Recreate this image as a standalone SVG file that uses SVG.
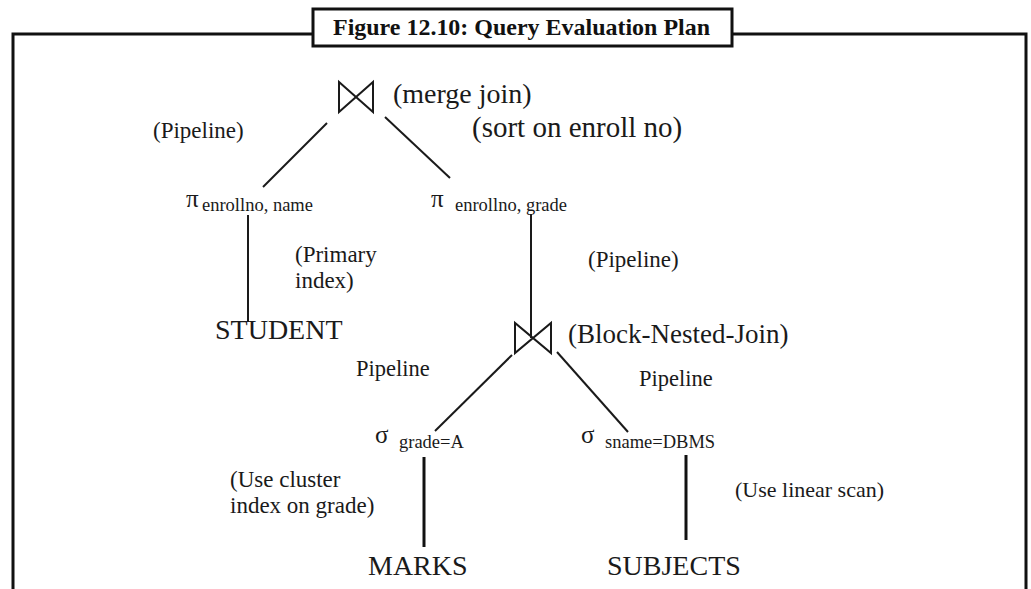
<svg xmlns="http://www.w3.org/2000/svg" width="1031" height="589" viewBox="0 0 1031 589">
<style>
  .t { font-family: "Liberation Serif", "Times New Roman", serif; fill: #1a1a1a; }
  .big { font-size: 28px; }
  .mid { font-size: 23px; }
  .sub { font-size: 18.5px; }
  .greek { font-size: 25px; }
  .ln { stroke: #1a1a1a; stroke-width: 2; fill: none; }
  .thick { stroke: #111; stroke-width: 3; fill: none; }
  .frame { stroke: #111; stroke-width: 3; fill: none; }
  .title { font-family: "Liberation Serif", "Times New Roman", serif; font-weight: bold; font-size: 23px; fill: #111; }
</style>
<rect width="1031" height="589" fill="#fff"/>
<g id="frame">
  <path class="frame" d="M13,589 L13,34 L313,34 M732,34 L1026,34 L1026,589"/>
  <rect class="frame" x="313" y="9" width="419" height="37" fill="#fff"/>
  <text class="title" x="333" y="35" textLength="377" lengthAdjust="spacingAndGlyphs">Figure 12.10: Query Evaluation Plan</text>
</g>
<g id="connectors">
  <line class="ln" x1="327" y1="123" x2="263" y2="187"/>
  <line class="ln" x1="385" y1="117" x2="450" y2="178"/>
  <line class="ln" x1="248" y1="215" x2="248" y2="322"/>
  <line class="ln" x1="531" y1="214" x2="531" y2="338"/>
  <line class="ln" x1="512" y1="355" x2="435" y2="431"/>
  <line class="ln" x1="557" y1="352" x2="628" y2="432"/>
  <line class="thick" x1="424" y1="457" x2="424" y2="547"/>
  <line class="thick" x1="686" y1="455" x2="686" y2="540"/>
</g>
<g id="merge-join">
  <path class="ln" d="M339,82 L339,112 L373,82 L373,112 Z"/>
  <text class="t big" x="393" y="103">(merge join)</text>
  <text class="t big" x="472" y="137" style="font-size:29px">(sort on enroll no)</text>
</g>
<g id="pipeline-left-label">
  <text class="t mid" x="153" y="138">(Pipeline)</text>
</g>
<g id="project-name">
  <text class="t greek" x="186" y="207">π</text>
  <text class="t sub" x="202" y="211">enrollno, name</text>
</g>
<g id="project-grade">
  <text class="t greek" x="431" y="207">π</text>
  <text class="t sub" x="455" y="211">enrollno, grade</text>
</g>
<g id="primary-index-label">
  <text class="t mid" x="295" y="262">(Primary</text>
  <text class="t mid" x="295" y="288">index)</text>
</g>
<g id="pipeline-mid-label">
  <text class="t mid" x="588" y="267">(Pipeline)</text>
</g>
<g id="student">
  <text class="t big" x="215" y="339">STUDENT</text>
</g>
<g id="block-nested-join">
  <path class="ln" d="M515,323 L515,353 L551,323 L551,353 Z"/>
  <text class="t" x="568" y="343" style="font-size:27px">(Block-Nested-Join)</text>
</g>
<g id="pipeline-labels">
  <text class="t mid" x="356" y="376" style="font-size:22.5px">Pipeline</text>
  <text class="t mid" x="639" y="386" style="font-size:22.5px">Pipeline</text>
</g>
<g id="select-grade">
  <text class="t greek" x="375" y="443">σ</text>
  <text class="t sub" x="399" y="448">grade=A</text>
</g>
<g id="select-sname">
  <text class="t greek" x="581" y="443">σ</text>
  <text class="t sub" x="605" y="448">sname=DBMS</text>
</g>
<g id="cluster-label">
  <text class="t mid" x="230" y="487">(Use cluster</text>
  <text class="t mid" x="230" y="513">index on grade)</text>
</g>
<g id="linear-label">
  <text class="t" x="735" y="497" style="font-size:22px">(Use linear scan)</text>
</g>
<g id="marks">
  <text class="t big" x="368" y="575">MARKS</text>
</g>
<g id="subjects">
  <text class="t big" x="607" y="575">SUBJECTS</text>
</g>
</svg>
